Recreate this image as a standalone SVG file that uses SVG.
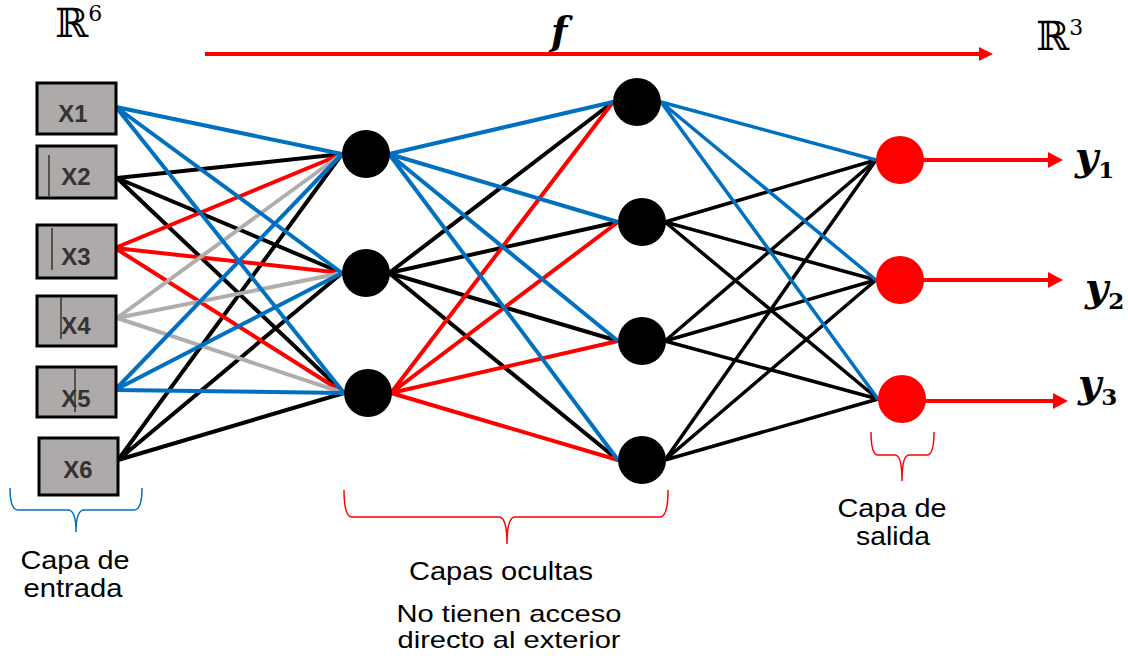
<svg xmlns="http://www.w3.org/2000/svg" width="1128" height="658" viewBox="0 0 1128 658">
  <defs>
    <marker id="head" markerUnits="userSpaceOnUse" markerWidth="16" markerHeight="16" refX="0" refY="8" orient="auto" viewBox="0 0 16 16">
      <path d="M0,0 L15,8 L0,16 z" fill="#ff0000"/>
    </marker>
    <marker id="head-top" markerUnits="userSpaceOnUse" markerWidth="14" markerHeight="14" refX="0" refY="7" orient="auto" viewBox="0 0 14 14">
      <path d="M0,0 L14,7 L0,14 z" fill="#ff0000"/>
    </marker>
  </defs>
  <style>
    .box { fill: #aeaaaa; stroke: #000; stroke-width: 3; }
    .boxlbl { font-family: "Liberation Sans", Arial, sans-serif; font-weight: bold; font-size: 24px; fill: #333; text-anchor: middle; }
    .caret { stroke: #333; stroke-width: 1.5; }
    .hid { fill: #000; }
    .out { fill: #ff0000; }
    .c { fill: none; stroke-width: 4; stroke-linecap: round; }
    .c3 { fill: none; stroke-width: 3.5; stroke-linecap: round; }
    .blue { stroke: #0070c0; }
    .black { stroke: #000; }
    .red { stroke: #ff0000; }
    .gray { stroke: #b0adad; }
    .arrow { stroke: #ff0000; stroke-width: 4; fill: none; }
    .cap { font-family: "Liberation Sans", Arial, sans-serif; font-size: 25px; fill: #000; text-anchor: middle; }
    .cap2 { font-family: "Liberation Sans", Arial, sans-serif; font-size: 24px; fill: #000; text-anchor: middle; }
    .math { font-family: "DejaVu Serif", "Liberation Serif", serif; fill: #000; }
    .mathv { font-family: "DejaVu Serif", "Liberation Serif", serif; font-weight: bold; font-style: italic; fill: #000; }
    .sub { font-style: normal; font-weight: bold; }
    .brace { fill: none; stroke-width: 1.5; }
  </style>

  <!-- connections between layers -->
  <g id="connectors">
    <!-- input layer to first hidden layer -->
    <g class="c">
      <path class="black" d="M117,178 L342,154 M117,178 L342,273 M117,178 L344,393"/>
      <path class="black" d="M118,460 L342,154 M118,460 L342,273 M118,460 L344,393"/>
      <path class="red" d="M115,248 L342,154 M115,248 L342,273 M115,248 L344,393"/>
      <path class="gray" d="M117,318 L342,154 M117,318 L342,273 M117,318 L344,393"/>
      <path class="blue" d="M116,107 L342,154 M116,107 L342,273 M116,107 L344,393"/>
      <path class="blue" d="M115,390 L342,154 M115,390 L342,273 M115,390 L344,393"/>
    </g>
    <!-- first hidden layer to second hidden layer -->
    <g class="c">
      <path class="black" d="M389,273 L613,102 M389,273 L618,222 M389,273 L618,341 M389,273 L618,460"/>
      <path class="red" d="M391,393 L613,102 M391,393 L618,222 M391,393 L618,341 M391,393 L618,460"/>
      <path class="blue" d="M389,154 L613,102 M389,154 L618,222 M389,154 L618,341 M389,154 L618,460"/>
    </g>
    <!-- second hidden layer to output layer -->
    <g class="c3">
      <path class="black" d="M665,222 L876,160 M665,222 L876,280 M665,222 L878,399"/>
      <path class="black" d="M665,341 L876,160 M665,341 L876,280 M665,341 L878,399"/>
      <path class="black" d="M665,460 L876,160 M665,460 L876,280 M665,460 L878,399"/>
      <path class="blue" d="M661,102 L876,160 M661,102 L876,280 M661,102 L878,399"/>
    </g>
    <!-- outputs -->
    <line class="arrow" x1="920" y1="160" x2="1048" y2="160" marker-end="url(#head)"/>
    <line class="arrow" x1="920" y1="280" x2="1048" y2="280" marker-end="url(#head)"/>
    <line class="arrow" x1="922" y1="401" x2="1053" y2="401" marker-end="url(#head)"/>
    <!-- mapping arrow f -->
    <line class="arrow" x1="205" y1="54" x2="979" y2="54" marker-end="url(#head-top)"/>
  </g>

  <!-- input layer -->
  <g id="x1"><rect class="box" x="37" y="83" width="79" height="51"/><text class="boxlbl" x="73" y="122">X1</text></g>
  <g id="x2"><rect class="box" x="37" y="146" width="79" height="52"/><line class="caret" x1="49" y1="155" x2="49" y2="197"/><text class="boxlbl" x="76" y="185">X2</text></g>
  <g id="x3"><rect class="box" x="37" y="225" width="79" height="53"/><line class="caret" x1="52" y1="228" x2="52" y2="270"/><text class="boxlbl" x="76" y="265">X3</text></g>
  <g id="x4"><rect class="box" x="37" y="296" width="79" height="50"/><line class="caret" x1="61" y1="298" x2="61" y2="339"/><text class="boxlbl" x="76" y="334">X4</text></g>
  <g id="x5"><rect class="box" x="37" y="367" width="79" height="50"/><line class="caret" x1="75" y1="369" x2="75" y2="412"/><text class="boxlbl" x="76" y="407">X5</text></g>
  <g id="x6"><rect class="box" x="39" y="438" width="79" height="57"/><text class="boxlbl" x="78" y="478">X6</text></g>

  <!-- first hidden layer -->
  <g id="h1-1"><circle class="hid" cx="366" cy="154" r="24"/></g>
  <g id="h1-2"><circle class="hid" cx="366" cy="273" r="24"/></g>
  <g id="h1-3"><circle class="hid" cx="368" cy="393" r="24"/></g>

  <!-- second hidden layer -->
  <g id="h2-1"><circle class="hid" cx="637" cy="102" r="24"/></g>
  <g id="h2-2"><circle class="hid" cx="642" cy="222" r="24"/></g>
  <g id="h2-3"><circle class="hid" cx="642" cy="341" r="24"/></g>
  <g id="h2-4"><circle class="hid" cx="642" cy="460" r="24"/></g>

  <!-- output layer -->
  <g id="o1"><circle class="out" cx="900" cy="160" r="24"/></g>
  <g id="o2"><circle class="out" cx="900" cy="280" r="24"/></g>
  <g id="o3"><circle class="out" cx="902" cy="399" r="24"/></g>

  <!-- output labels -->
  <g id="y1"><text class="mathv" x="1075" y="170" font-size="40">y<tspan class="sub" font-size="23" dy="8">1</tspan></text></g>
  <g id="y2"><text class="mathv" x="1085" y="301" font-size="40">y<tspan class="sub" font-size="23" dy="8">2</tspan></text></g>
  <g id="y3"><text class="mathv" x="1078" y="397" font-size="40">y<tspan class="sub" font-size="23" dy="8">3</tspan></text></g>

  <!-- spaces and mapping -->
  <g id="r6"><text class="math" x="55" y="37" font-size="40">ℝ<tspan font-size="22" dy="-16">6</tspan></text></g>
  <g id="r3"><text class="math" x="1036" y="50" font-size="40">ℝ<tspan font-size="22" dy="-15">3</tspan></text></g>
  <g id="f"><text class="mathv" x="551" y="44" font-size="38">f</text></g>

  <!-- layer braces -->
  <g id="brace-input">
    <path class="brace" stroke="#0070c0" d="M10,488 Q10,510 18,510 L68,510 Q76,510 76,532 Q76,510 84,510 L134,510 Q142,510 142,488"/>
    <text class="cap" x="75" y="569" textLength="109" lengthAdjust="spacingAndGlyphs">Capa de</text>
    <text class="cap" x="73" y="597" textLength="99" lengthAdjust="spacingAndGlyphs">entrada</text>
  </g>
  <g id="brace-hidden">
    <path class="brace" stroke="#ff0000" d="M344,490 Q344,517 352,517 L499,517 Q507,517 507,544 Q507,517 515,517 L660,517 Q668,517 668,490"/>
    <text class="cap" x="501" y="580" textLength="184" lengthAdjust="spacingAndGlyphs">Capas ocultas</text>
    <text class="cap2" x="509" y="622" textLength="225" lengthAdjust="spacingAndGlyphs">No tienen acceso</text>
    <text class="cap2" x="509" y="648" textLength="223" lengthAdjust="spacingAndGlyphs">directo al exterior</text>
  </g>
  <g id="brace-output">
    <path class="brace" stroke="#ff0000" d="M871,432 Q871,455 878,455 L895,455 Q902,455 902,481 Q902,455 909,455 L927,455 Q934,455 934,432"/>
    <text class="cap" x="892" y="517" textLength="109" lengthAdjust="spacingAndGlyphs">Capa de</text>
    <text class="cap" x="893" y="545" textLength="74" lengthAdjust="spacingAndGlyphs">salida</text>
  </g>
</svg>
